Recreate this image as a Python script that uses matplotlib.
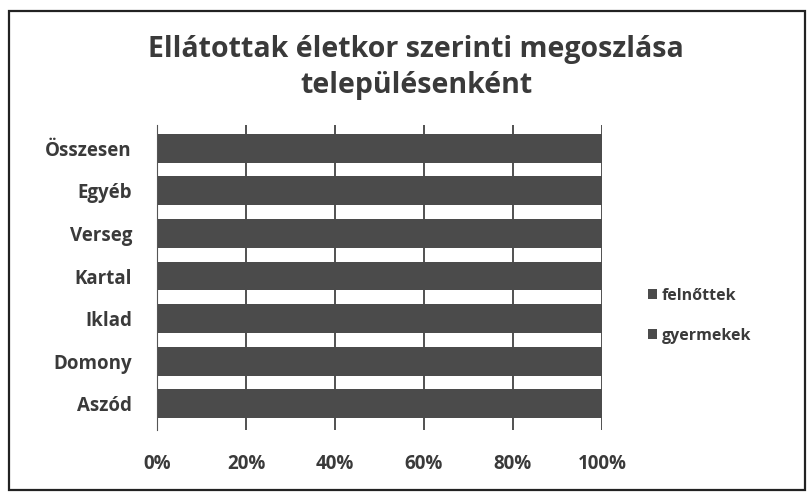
import matplotlib
matplotlib.use("Agg")
import matplotlib.pyplot as plt
from matplotlib.patches import Rectangle
import numpy as np

# bottom to top, as matplotlib draws barh
categories = ["Aszód", "Domony", "Iklad", "Kartal", "Verseg", "Egyéb", "Összesen"]
felnottek = [88, 90, 87, 89, 91, 86, 89]   # % (split not readable; both series print dark grey)
gyermekek = [12, 10, 13, 11, 9, 14, 11]
xticks = [0, 20, 40, 60, 80, 100]
xtick_labels = ["0%", "20%", "40%", "60%", "80%", "100%"]

FONT = ["Open Sans", "DejaVu Sans"]
TXT = "#3a3a3a"

fig = plt.figure(figsize=(8.1, 4.93), dpi=100)
fig.patch.set_facecolor("white")
fig.patches.append(Rectangle((9 / 810, 3 / 493), 796 / 810, 479 / 493,
                             transform=fig.transFigure, fill=False,
                             edgecolor="#222222", linewidth=1.6))

ax = fig.add_axes([157 / 810, 1 - 430 / 493, 445 / 810, 305 / 493])
y = np.arange(len(categories))
ax.barh(y, felnottek, height=0.68, color="#4b4b4b", label="felnőttek", zorder=2)
ax.barh(y, gyermekek, left=felnottek, height=0.68, color="#4b4b4b",
        label="gyermekek", zorder=2)

ax.set_xlim(0, 100)
ax.set_ylim(-0.62, len(categories) - 0.45)
ax.set_xticks(xticks)
ax.set_xticklabels(xtick_labels, family=FONT, fontweight="bold", fontsize=13.5, color=TXT)
ax.set_yticks(y)
ax.set_yticklabels(categories, family=FONT, fontweight="bold", fontsize=13.5, color=TXT)
ax.tick_params(axis="x", length=0, pad=17)
ax.tick_params(axis="y", length=0, pad=18)
ax.grid(axis="x", color="#333333", linewidth=1.2, zorder=1)
for s in ["top", "right", "bottom"]:
    ax.spines[s].set_visible(False)
ax.spines["left"].set_color("#555555")

fig.text(416 / 810, 1 - 50 / 493, "Ellátottak életkor szerinti megoszlása",
         ha="center", va="center", family=FONT, fontweight="bold", fontsize=20.5, color=TXT)
fig.text(416 / 810, 1 - 86 / 493, "településenként",
         ha="center", va="center", family=FONT, fontweight="bold", fontsize=20.5, color=TXT)

ax.legend(loc="center left", bbox_to_anchor=(1.07, 0.375), frameon=False,
          prop={"family": FONT, "weight": "bold", "size": 11.5},
          labelcolor=TXT, handlelength=0.6, handleheight=0.6, handletextpad=0.3,
          labelspacing=1.5)

fig.savefig("out.png", dpi=100, facecolor="white")
